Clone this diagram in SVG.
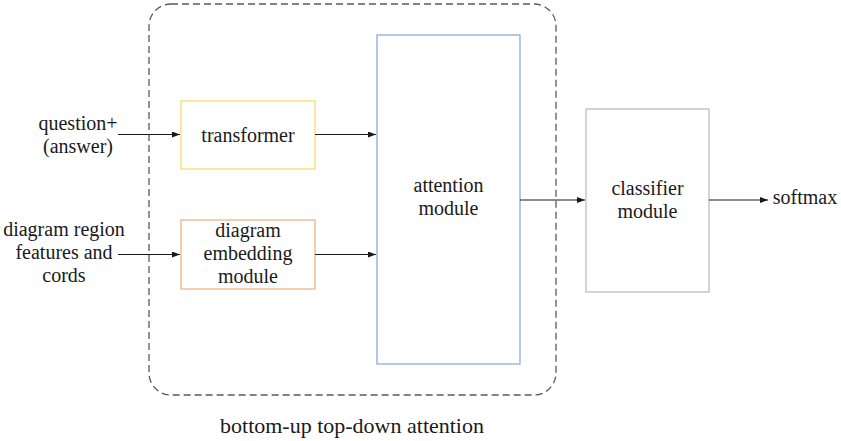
<svg xmlns="http://www.w3.org/2000/svg" width="841" height="441" viewBox="0 0 841 441">
  <defs>
    <marker id="arrow" viewBox="0 0 8 6" refX="8" refY="3" markerWidth="8" markerHeight="6" markerUnits="userSpaceOnUse" orient="auto">
      <path d="M0,0 L8,3 L0,6 Z" fill="#1a1a1a"/>
    </marker>
    <style>
      .lbl { font-family: 'Liberation Serif', 'Times New Roman', Times, serif; font-size: 20px; fill: #1a1a1a; text-anchor: middle; }
      .big { font-size: 22px; }
      .box { fill: #ffffff; stroke-width: 1.3; }
      .edge { stroke: #1a1a1a; stroke-width: 1.2; fill: none; marker-end: url(#arrow); }
    </style>
  </defs>
  <rect width="841" height="441" fill="#ffffff"/>

  <!-- outer dashed container -->
  <g id="container">
    <rect x="149" y="4" width="407" height="391" rx="22" ry="22" fill="none" stroke="#595959" stroke-width="1.3" stroke-dasharray="7,4"/>
    <text class="lbl big" x="352" y="433">bottom-up top-down attention</text>
  </g>

  <!-- input labels -->
  <g id="input-question">
    <text class="lbl" x="78" y="130">question+</text>
    <text class="lbl" x="78" y="153">(answer)</text>
  </g>
  <g id="input-diagram">
    <text class="lbl" x="64" y="236">diagram region</text>
    <text class="lbl" x="64" y="259">features and</text>
    <text class="lbl" x="64" y="282">cords</text>
  </g>

  <g id="transformer">
    <rect class="box" x="181" y="101" width="134" height="68" stroke="#FFD966"/>
    <text class="lbl" x="248" y="142">transformer</text>
  </g>

  <g id="embedding">
    <rect class="box" x="181" y="220" width="134" height="69" stroke="#F4B183"/>
    <text class="lbl" x="248" y="237">diagram</text>
    <text class="lbl" x="248" y="260">embedding</text>
    <text class="lbl" x="248" y="283">module</text>
  </g>

  <g id="attention">
    <rect class="box" x="377" y="35" width="143" height="329" stroke="#8FAADC"/>
    <text class="lbl" x="448.5" y="192">attention</text>
    <text class="lbl" x="448.5" y="215">module</text>
  </g>

  <g id="classifier">
    <rect class="box" x="586" y="109" width="123" height="183" stroke="#BFBFBF"/>
    <text class="lbl" x="647.5" y="195">classifier</text>
    <text class="lbl" x="647.5" y="218">module</text>
  </g>

  <g id="output">
    <text class="lbl" x="805" y="204">softmax</text>
  </g>

  <g id="connectors">
    <line class="edge" x1="118" y1="134.5" x2="180" y2="134.5"/>
    <line class="edge" x1="118" y1="254.5" x2="180" y2="254.5"/>
    <line class="edge" x1="315" y1="134.5" x2="376" y2="134.5"/>
    <line class="edge" x1="315" y1="254.5" x2="376" y2="254.5"/>
    <line class="edge" x1="520" y1="200" x2="585" y2="200"/>
    <line class="edge" x1="709" y1="200" x2="768" y2="200"/>
  </g>
</svg>
